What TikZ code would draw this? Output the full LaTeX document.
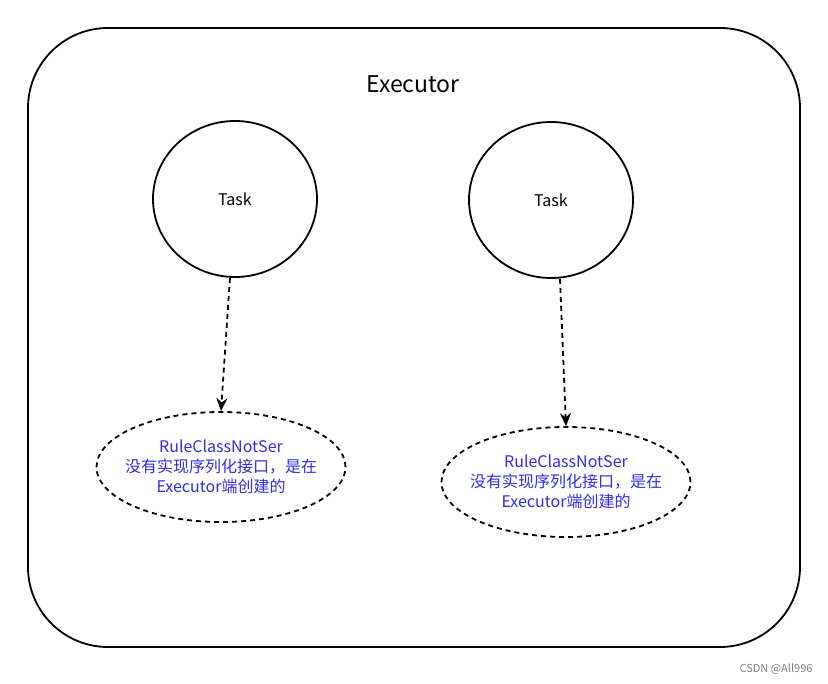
\documentclass[tikz,border=0pt]{standalone}
\usepackage{fontspec}
\setmainfont{Noto Sans CJK SC}
\usetikzlibrary{shapes.geometric, arrows.meta, positioning}

\tikzset{
    taskcircle/.style={draw, ellipse, line width=1.8pt, minimum width=164pt, minimum height=156pt, font=\fontsize{16}{20}\selectfont},
    ruleellipse/.style={draw, ellipse, dash pattern=on 5pt off 4pt, line width=1.8pt, inner xsep=-10pt, inner ysep=0pt, minimum width=249pt, minimum height=110pt, align=center, text=blue!80!white!90!black, font=\fontsize{16}{20}\selectfont},
    dasharrow/.style={-{Stealth[length=13pt, width=11pt]}, dash pattern=on 5pt off 4pt, line width=1.8pt}
}

\begin{document}
\begin{tikzpicture}[x=1pt, y=-1pt]
    \useasboundingbox (0,0) rectangle (828,684);

    % Executor 外框
    \draw[line width=1.8pt, rounded corners=80pt] (28,28) rectangle (800,647);
    \node[font=\fontsize{23}{28}\selectfont] (executor) at (413,84) {Executor};

    % 两个 Task
    \node[taskcircle] (taskL) at (235,199) {Task};
    \node[taskcircle] (taskR) at (551,200) {Task};

    % RuleClassNotSer 对象
    \node[ruleellipse] (ruleL) at (221,467) {RuleClassNotSer\\没有实现序列化接口，是在\\Executor端创建的};
    \node[ruleellipse] (ruleR) at (566,482) {RuleClassNotSer\\没有实现序列化接口，是在\\Executor端创建的};

    % 虚线箭头
    \draw[dasharrow] (taskL.south) ++(-5pt,0) -- (ruleL.north);
    \draw[dasharrow] (taskR.south) ++(9pt,0) -- (ruleR.north);

    % 水印
    \node[text=gray, font=\fontsize{11}{13}\selectfont, anchor=east] (mark) at (816,669) {CSDN @All996};
\end{tikzpicture}
\end{document}
